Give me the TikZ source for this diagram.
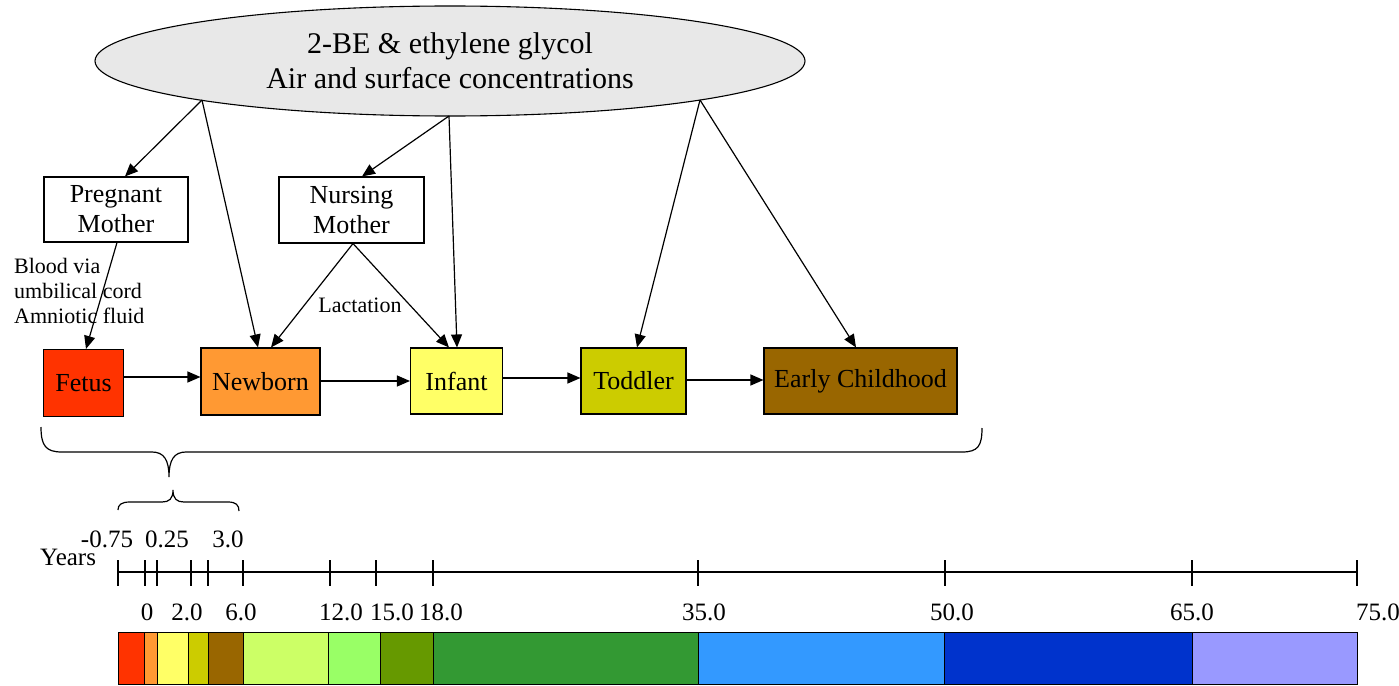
\documentclass[tikz,border=0pt]{standalone}
\usepackage{fontspec}
\setmainfont{Liberation Serif}
\usetikzlibrary{shapes.geometric,arrows.meta,calc}

\definecolor{ellfill}{HTML}{E8E8E8}
\definecolor{cfetus}{HTML}{FF3300}
\definecolor{cnewborn}{HTML}{FF9933}
\definecolor{cinfant}{HTML}{FFFF66}
\definecolor{ctoddler}{HTML}{CCCC00}
\definecolor{cearly}{HTML}{996600}
\definecolor{cschool}{HTML}{CCFF66}
\definecolor{cteen}{HTML}{99FF66}
\definecolor{clateteen}{HTML}{669900}
\definecolor{cadult}{HTML}{339933}
\definecolor{cmid}{HTML}{3399FF}
\definecolor{csenior}{HTML}{0033CC}
\definecolor{celder}{HTML}{9999FF}

\begin{document}
\begin{tikzpicture}[x=1pt,y=-1pt,
  box/.style={draw, line width=1.1pt, rectangle, inner sep=0pt, align=center,
    font=\fontsize{26}{30}\selectfont},
  stage/.style={draw, line width=1.1pt, rectangle, inner sep=0pt,
    font=\fontsize{26}{30}\selectfont},
  arr/.style={line width=1.2pt, -{Triangle[length=13pt,width=11pt]}},
  lbl/.style={font=\fontsize{22}{25}\selectfont, inner sep=0pt},
  num/.style={font=\fontsize{25}{28}\selectfont, inner sep=0pt},
  seg/.style={draw, line width=0.9pt},
  tick/.style={line width=1.2pt},
  brace/.style={line width=1.2pt},
]
\useasboundingbox (0,0) rectangle (1399,685);

% source ellipse
\node[ellipse, draw, line width=1.1pt, fill=ellfill, minimum width=710pt,
      minimum height=110pt, inner sep=0pt, align=center,
      font=\fontsize{30}{35}\selectfont] (src) at (450,61)
  {2-BE \& ethylene glycol\\Air and surface concentrations};
\coordinate (eL) at (202,100);
\coordinate (eM) at (449,116);
\coordinate (eR) at (700,100);

% mothers
\node[box, minimum width=144pt, minimum height=65pt] (preg) at (116,209.5)
  {Pregnant\\Mother};
\node[box, minimum width=145pt, minimum height=66pt] (nurs) at (351.5,210)
  {Nursing\\Mother};

% life stages
\node[stage, fill=cfetus, minimum width=80pt, minimum height=67pt] (fetus) at (83.5,383) {Fetus};
\node[stage, fill=cnewborn, minimum width=119pt, minimum height=67pt] (newborn) at (260.5,381.5) {Newborn};
\node[stage, fill=cinfant, minimum width=92pt, minimum height=66pt] (infant) at (456.5,381) {Infant};
\node[stage, fill=ctoddler, minimum width=105pt, minimum height=66pt] (toddler) at (633.5,381) {Toddler};
\node[stage, fill=cearly, minimum width=193pt, minimum height=66pt] (early) at (860.5,381) {Early Childhood};

% exposure routes
\draw[arr] (eL) -- (preg.north -| 125,0);
\draw[arr] (eL) -- (newborn.north -| 258,0);
\draw[arr] (eM) -- (nurs.north -| 362,0);
\draw[arr] (eM) -- (infant.north -| 457,0);
\draw[arr] (eR) -- (toddler.north -| 637,0);
\draw[arr] (eR) -- (early.north -| 856,0);
\draw[arr] (preg.south -| 117,0) -- (fetus.north -| 86,0);
\draw[arr] (nurs.south -| 353,0) -- (newborn.north -| 271,0);
\draw[arr] (nurs.south -| 353,0) -- (infant.north -| 449,0);

% stage sequence
\draw[arr] (fetus.east |- 0,377) -- (newborn.west |- 0,377);
\draw[arr] (newborn.east |- 0,381) -- (infant.west |- 0,381);
\draw[arr] (infant.east |- 0,378) -- (toddler.west |- 0,378);
\draw[arr] (toddler.east |- 0,380) -- (early.west |- 0,380);

% route labels
\node[lbl, align=left, anchor=north west] (cord) at (14,258)
  {Blood via\\umbilical cord\\Amniotic fluid};
\node[lbl, anchor=base] (lact) at (360,312) {Lactation};

% braces
\draw[brace] (41,427) .. controls (41,446) and (46,452) .. (62,452)
  -- (152,452) .. controls (164,452) and (169,460) .. (169,477)
  .. controls (169,460) and (174,452) .. (186,452)
  -- (962,452) .. controls (978,452) and (982,446) .. (982,428);
\draw[brace] (118,510) .. controls (118,505) and (121,502) .. (130,502)
  -- (162,502) .. controls (169,502) and (173,499) .. (173,490)
  .. controls (173,499) and (177,502) .. (184,502)
  -- (228,502) .. controls (236,502) and (239,505) .. (239,511);

% age axis
\node[num, anchor=base west] (years) at (40,565) {Years};
\draw[tick] (118,572) -- (1357,572);
\foreach \x in {118,145,157,191,208,243,330,376,433,698,945,1192,1357}
  \draw[tick] (\x,560) -- (\x,586);
\node[num, anchor=base] (tm075) at (107,547) {-0.75};
\node[num, anchor=base] (t025) at (167,547) {0.25};
\node[num, anchor=base] (t3) at (228,547) {3.0};
\node[num, anchor=base] (t0) at (147,620) {0};
\node[num, anchor=base] (t2) at (187,620) {2.0};
\node[num, anchor=base] (t6) at (241,620) {6.0};
\node[num, anchor=base] (t12) at (341,620) {12.0};
\node[num, anchor=base] (t15) at (392,620) {15.0};
\node[num, anchor=base] (t18) at (441,620) {18.0};
\node[num, anchor=base] (t35) at (704,620) {35.0};
\node[num, anchor=base] (t50) at (952,620) {50.0};
\node[num, anchor=base] (t65) at (1192,620) {65.0};
\node[num, anchor=base] (t75) at (1378,620) {75.0};

% colour bar of age groups
\foreach \a/\b/\c in {118/144/cfetus,144/157/cnewborn,157/188/cinfant,
    188/208/ctoddler,208/243/cearly,243/328/cschool,328/380/cteen,
    380/433/clateteen,433/698/cadult,698/944/cmid,944/1192/csenior,
    1192/1357/celder}
  \draw[seg, fill=\c] (\a,632) rectangle (\b,684);
\end{tikzpicture}
\end{document}
